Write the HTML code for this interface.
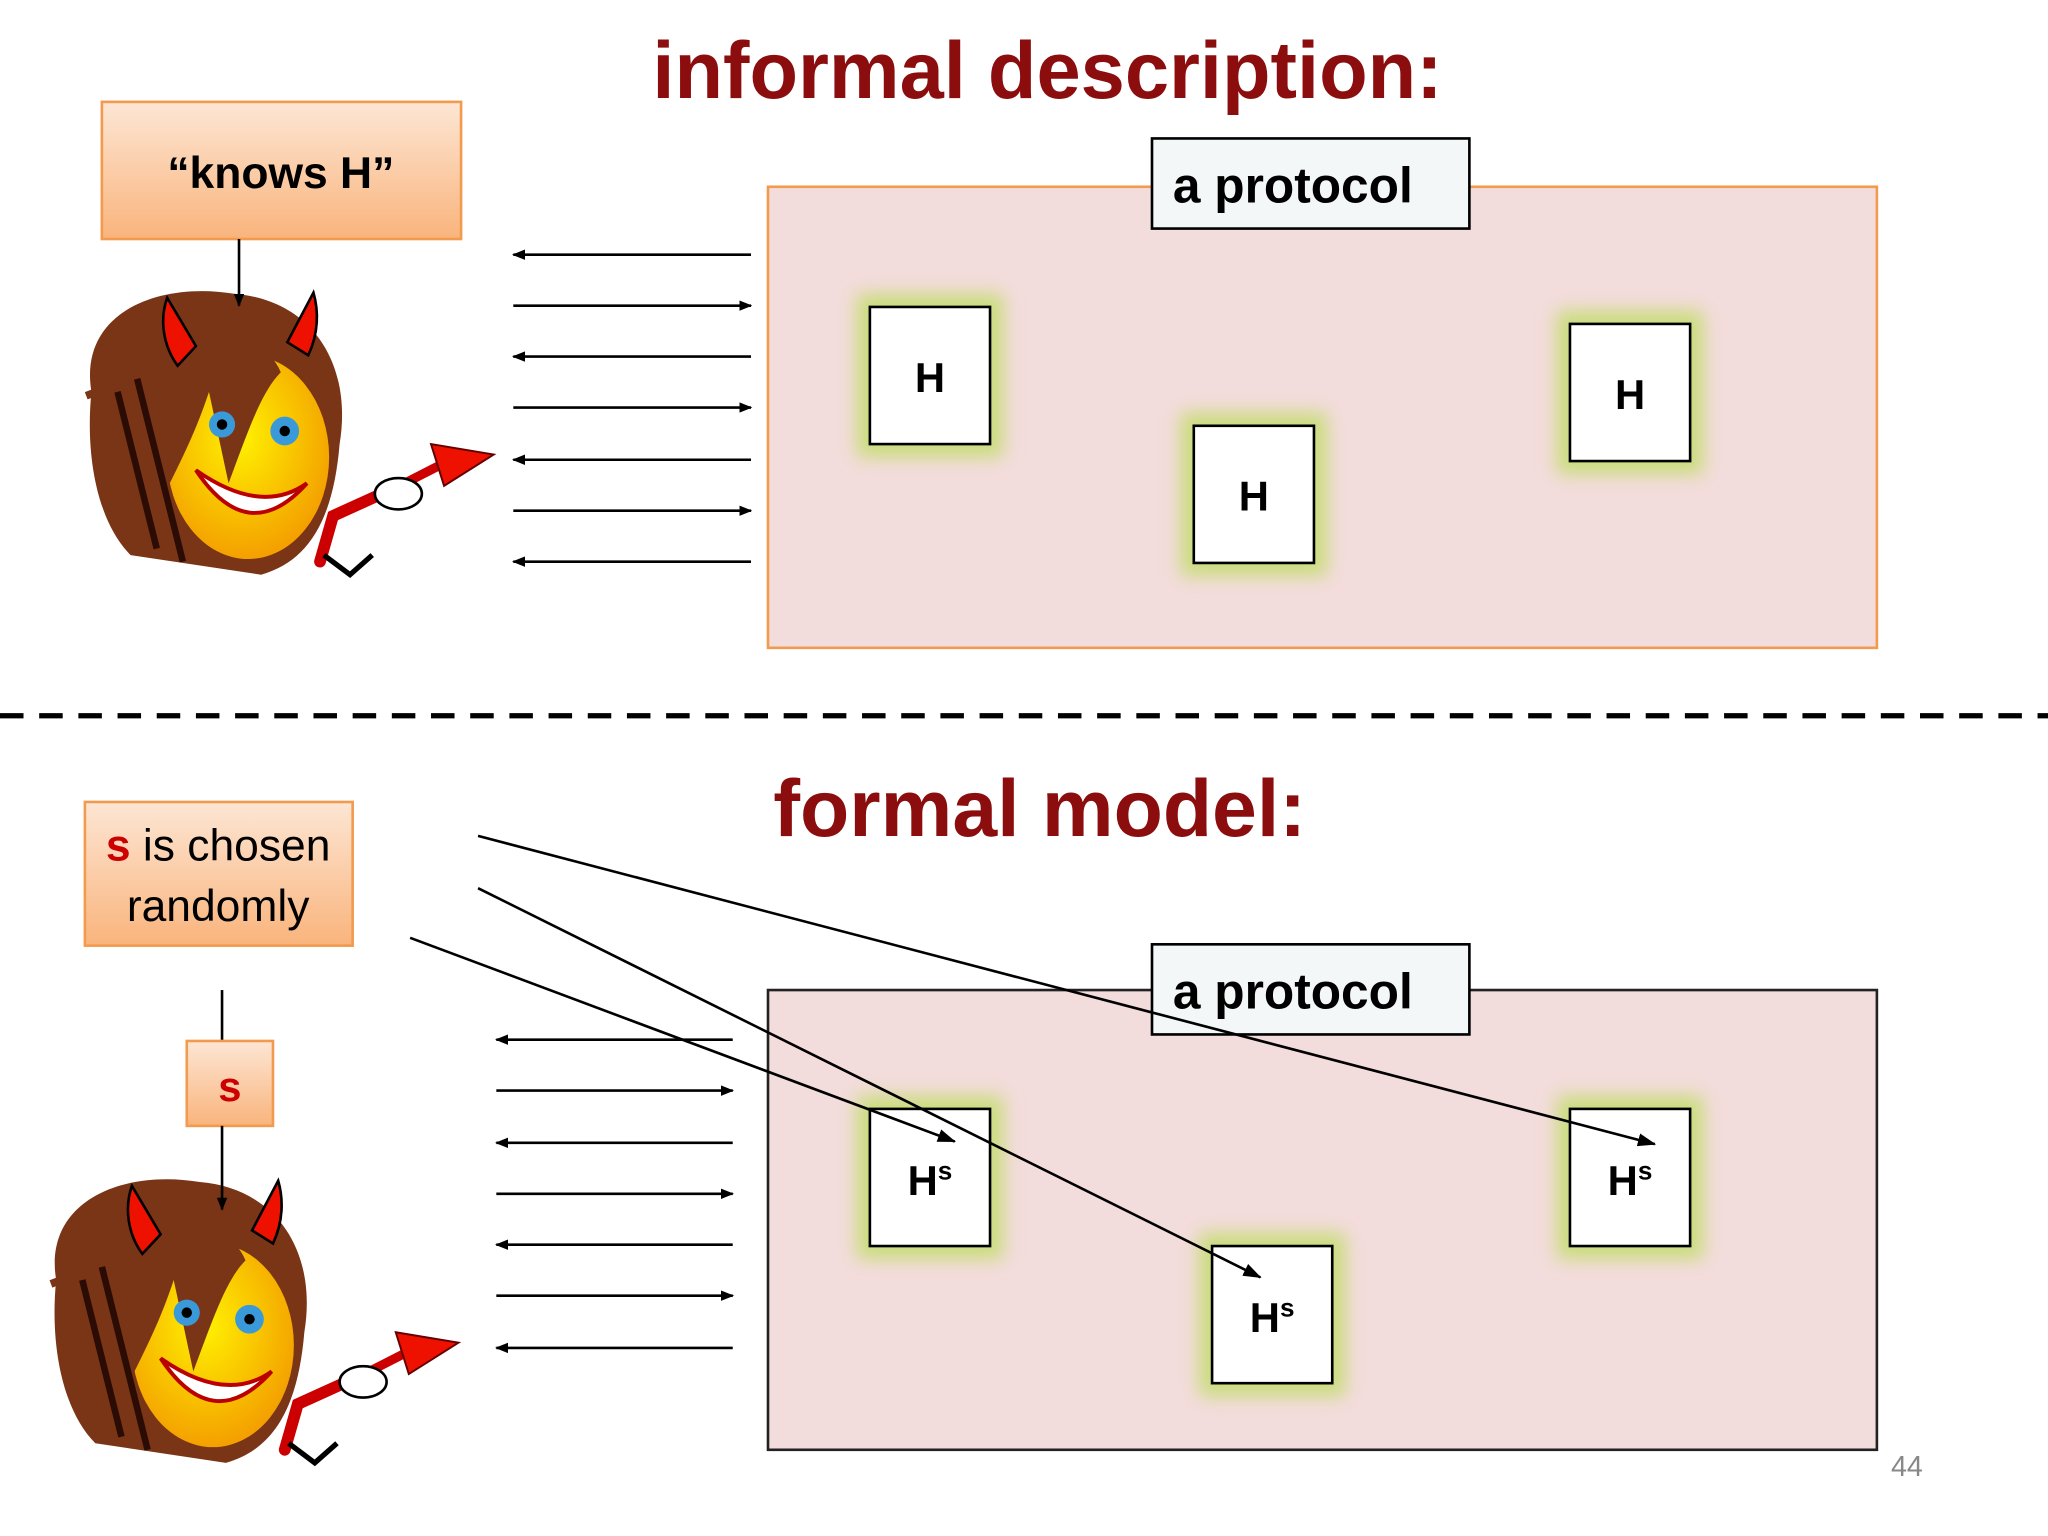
<!DOCTYPE html>
<html><head><meta charset="utf-8"><style>html,body{margin:0;padding:0;background:#fff}svg{display:block}</style></head>
<body>
<svg width="2048" height="1536" viewBox="0 0 1568 1176" preserveAspectRatio="none" xmlns="http://www.w3.org/2000/svg" font-family="'Liberation Sans', sans-serif">
<defs>
<linearGradient id="pg" x1="0" y1="0" x2="0" y2="1"><stop offset="0" stop-color="#fde6d4"/><stop offset="1" stop-color="#f9b47c"/></linearGradient>
<radialGradient id="fg" cx="0.45" cy="0.4" r="0.6"><stop offset="0" stop-color="#fff200"/><stop offset="1" stop-color="#f4a000"/></radialGradient>
<filter id="glow" x="-40%" y="-40%" width="180%" height="180%"><feGaussianBlur stdDeviation="7"/></filter>
<marker id="ah" markerWidth="10" markerHeight="8" refX="9" refY="4" orient="auto" markerUnits="userSpaceOnUse"><path d="M0,0 L10,4 L0,8 z" fill="#000"/></marker>
<marker id="ah2" markerWidth="14" markerHeight="10" refX="13" refY="5" orient="auto" markerUnits="userSpaceOnUse"><path d="M0,0 L14,5 L0,10 z" fill="#000"/></marker>
<g id="devil">
<path d="M70,300 C60,240 120,215 180,225 C240,230 270,280 260,340 C255,400 235,430 200,440 L100,425 C75,400 65,350 70,300 Z" fill="#7a3416"/>
<path d="M66,303 L95,292" stroke="#7a3416" stroke-width="6"/>
<ellipse cx="190" cy="350" rx="62" ry="78" fill="url(#fg)"/>
<path d="M120,270 C150,250 200,250 215,285 C200,300 190,330 175,370 L160,300 C150,330 140,350 125,380 Z" fill="#7a3416"/>
<path d="M90,300 L120,420 M105,290 L140,430" stroke="#2a0c04" stroke-width="5" fill="none"/>
<circle cx="170" cy="325" r="10" fill="#3a9ad9"/><circle cx="218" cy="330" r="11" fill="#3a9ad9"/>
<circle cx="170" cy="325" r="4" fill="#000"/><circle cx="218" cy="330" r="4" fill="#000"/>
<path d="M150,360 Q190,420 235,370 Q200,395 150,360 Z" fill="#fff" stroke="#b00" stroke-width="3"/>
<path d="M128,228 L150,265 L136,280 C125,265 122,245 128,228 Z" fill="#e10" stroke="#000" stroke-width="2"/>
<path d="M240,224 L220,262 L236,272 C244,255 244,238 240,224 Z" fill="#e10" stroke="#000" stroke-width="2"/>
<path d="M245,430 L255,395 L310,370" stroke="#c00" stroke-width="9" fill="none" stroke-linecap="round"/>
<path d="M248,425 L268,440 L285,425" stroke="#000" stroke-width="4" fill="none"/>
<path d="M300,375 L345,352" stroke="#c00" stroke-width="7"/>
<path d="M330,340 L378,348 L340,372 Z" fill="#e10" stroke="#600" stroke-width="1.5"/>
<ellipse cx="305" cy="378" rx="18" ry="12" fill="#fff" stroke="#000" stroke-width="2"/>
</g>
</defs>
<rect width="1568" height="1176" fill="#fff"/>

<text x="802" y="75" text-anchor="middle" font-size="62" font-weight="bold" fill="#8b0d0d" textLength="605" lengthAdjust="spacingAndGlyphs">informal description:</text>

<rect x="78" y="78" width="275" height="105" fill="url(#pg)" stroke="#f29a4e" stroke-width="2"/>
<text x="215" y="144" text-anchor="middle" font-size="34" font-weight="bold">“knows H”</text>
<use href="#devil"/>
<line x1="183" y1="183" x2="183" y2="234" stroke="#000" stroke-width="2" marker-end="url(#ah)"/>

<g stroke="#000" stroke-width="2">
<line x1="575" y1="195" x2="393" y2="195" marker-end="url(#ah)"/>
<line x1="393" y1="234" x2="575" y2="234" marker-end="url(#ah)"/>
<line x1="575" y1="273" x2="393" y2="273" marker-end="url(#ah)"/>
<line x1="393" y1="312" x2="575" y2="312" marker-end="url(#ah)"/>
<line x1="575" y1="352" x2="393" y2="352" marker-end="url(#ah)"/>
<line x1="393" y1="391" x2="575" y2="391" marker-end="url(#ah)"/>
<line x1="575" y1="430" x2="393" y2="430" marker-end="url(#ah)"/>
</g>

<rect x="588" y="143" width="849" height="353" fill="#f3dcdc" stroke="#f29a4e" stroke-width="2"/>
<rect x="882" y="106" width="243" height="69" fill="#f4f7f7" stroke="#000" stroke-width="2"/>
<text x="898" y="155" font-size="38" font-weight="bold">a protocol</text>

<g>
<rect x="656" y="225" width="112" height="125" fill="#c9dd7a" filter="url(#glow)"/>
<rect x="904" y="316" width="112" height="125" fill="#c9dd7a" filter="url(#glow)"/>
<rect x="1192" y="238" width="112" height="125" fill="#c9dd7a" filter="url(#glow)"/>
<rect x="666" y="235" width="92" height="105" fill="#fff" stroke="#000" stroke-width="2"/>
<rect x="914" y="326" width="92" height="105" fill="#fff" stroke="#000" stroke-width="2"/>
<rect x="1202" y="248" width="92" height="105" fill="#fff" stroke="#000" stroke-width="2"/>
<text x="712" y="300" text-anchor="middle" font-size="32" font-weight="bold">H</text>
<text x="960" y="391" text-anchor="middle" font-size="32" font-weight="bold">H</text>
<text x="1248" y="313" text-anchor="middle" font-size="32" font-weight="bold">H</text>
</g>

<line x1="0" y1="548" x2="1568" y2="548" stroke="#000" stroke-width="4" stroke-dasharray="18 12"/>

<text x="796" y="640" text-anchor="middle" font-size="62" font-weight="bold" fill="#8b0d0d" textLength="408" lengthAdjust="spacingAndGlyphs">formal model:</text>

<rect x="65" y="614" width="205" height="110" fill="url(#pg)" stroke="#f29a4e" stroke-width="2"/>
<text x="167" y="659" text-anchor="middle" font-size="34"><tspan fill="#c00" font-weight="bold">s</tspan> is chosen</text>
<text x="167" y="705" text-anchor="middle" font-size="34">randomly</text>
<line x1="170" y1="758" x2="170" y2="797" stroke="#000" stroke-width="2"/>
<rect x="143" y="797" width="66" height="65" fill="url(#pg)" stroke="#f29a4e" stroke-width="2"/>
<text x="176" y="843" text-anchor="middle" font-size="32" font-weight="bold" fill="#c00">s</text>
<use href="#devil" transform="translate(-27,680)"/>
<line x1="170" y1="862" x2="170" y2="926" stroke="#000" stroke-width="2" marker-end="url(#ah)"/>

<g stroke="#000" stroke-width="2">
<line x1="561" y1="796" x2="380" y2="796" marker-end="url(#ah)"/>
<line x1="380" y1="835" x2="561" y2="835" marker-end="url(#ah)"/>
<line x1="561" y1="875" x2="380" y2="875" marker-end="url(#ah)"/>
<line x1="380" y1="914" x2="561" y2="914" marker-end="url(#ah)"/>
<line x1="561" y1="953" x2="380" y2="953" marker-end="url(#ah)"/>
<line x1="380" y1="992" x2="561" y2="992" marker-end="url(#ah)"/>
<line x1="561" y1="1032" x2="380" y2="1032" marker-end="url(#ah)"/>
</g>

<rect x="588" y="758" width="849" height="352" fill="#f3dcdc" stroke="#222" stroke-width="2"/>

<g>
<rect x="656" y="839" width="112" height="125" fill="#c9dd7a" filter="url(#glow)"/>
<rect x="918" y="944" width="112" height="125" fill="#c9dd7a" filter="url(#glow)"/>
<rect x="1192" y="839" width="112" height="125" fill="#c9dd7a" filter="url(#glow)"/>
<rect x="666" y="849" width="92" height="105" fill="#fff" stroke="#000" stroke-width="2"/>
<rect x="928" y="954" width="92" height="105" fill="#fff" stroke="#000" stroke-width="2"/>
<rect x="1202" y="849" width="92" height="105" fill="#fff" stroke="#000" stroke-width="2"/>
<text x="712" y="915" text-anchor="middle" font-size="32" font-weight="bold">H<tspan font-size="20" dy="-12">s</tspan></text>
<text x="974" y="1020" text-anchor="middle" font-size="32" font-weight="bold">H<tspan font-size="20" dy="-12">s</tspan></text>
<text x="1248" y="915" text-anchor="middle" font-size="32" font-weight="bold">H<tspan font-size="20" dy="-12">s</tspan></text>
</g>

<rect x="882" y="723" width="243" height="69" fill="#f4f7f7" stroke="#000" stroke-width="2"/>
<text x="898" y="772" font-size="38" font-weight="bold">a protocol</text>

<g stroke="#000" stroke-width="2" fill="none">
<line x1="366" y1="640" x2="1267" y2="876" marker-end="url(#ah2)"/>
<line x1="366" y1="680" x2="965" y2="978" marker-end="url(#ah2)"/>
<line x1="314" y1="718" x2="731" y2="874" marker-end="url(#ah2)"/>
</g>

<text x="1460" y="1130" text-anchor="middle" font-size="22" fill="#888">44</text>
</svg>
</body></html>
